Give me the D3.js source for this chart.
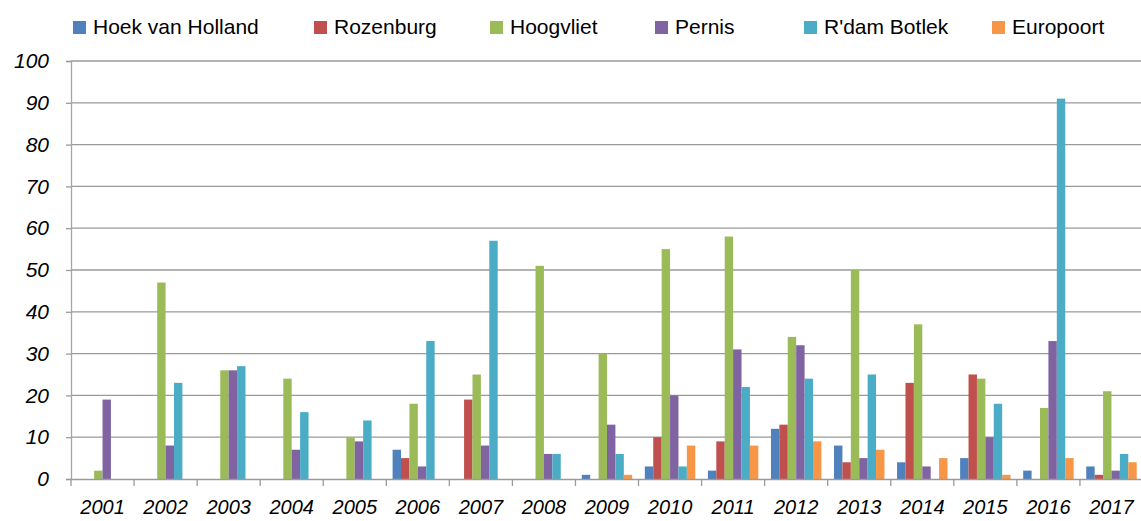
<!DOCTYPE html>
<html>
<head>
<meta charset="utf-8">
<script src="https://cdn.jsdelivr.net/npm/d3@7"></script>
<style>
  body { margin: 0; background: #fff; }
  svg { display: block; font-family: "Liberation Sans", Arial, sans-serif; }
</style>
</head>
<body>
<div id="graph1"></div>
<script>
//categories and series
let years = ["2001","2002","2003","2004","2005","2006","2007","2008","2009","2010","2011","2012","2013","2014","2015","2016","2017"];
let seriesNames = ["Hoek van Holland", "Rozenburg", "Hoogvliet", "Pernis", "R'dam Botlek", "Europoort"];
let seriesColors = ["#4f81bd", "#c0504d", "#9bbb59", "#8064a2", "#4bacc6", "#f79646"];

let hoekVanHolland = [0, 0, 0, 0, 0, 7, 0, 0, 1, 3, 2, 12, 8, 4, 5, 2, 3];
let rozenburg      = [0, 0, 0, 0, 0, 5, 19, 0, 0, 10, 9, 13, 4, 23, 25, 0, 1];
let hoogvliet      = [2, 47, 26, 24, 10, 18, 25, 51, 30, 55, 58, 34, 50, 37, 24, 17, 21];
let pernis         = [19, 8, 26, 7, 9, 3, 8, 6, 13, 20, 31, 32, 5, 3, 10, 33, 2];
let botlek         = [0, 23, 27, 16, 14, 33, 57, 6, 6, 3, 22, 24, 25, 0, 18, 91, 6];
let europoort      = [0, 0, 0, 0, 0, 0, 0, 0, 1, 8, 8, 9, 7, 5, 1, 5, 4];

let yTicks = [0, 10, 20, 30, 40, 50, 60, 70, 80, 90, 100];

let seriesValues = [hoekVanHolland, rozenburg, hoogvliet, pernis, botlek, europoort];

//layout
let width = 1141, height = 521;
let margin = {top: 61, right: -2, bottom: 42, left: 71};
let innerW = width - margin.left - margin.right;
let innerH = height - margin.top - margin.bottom;
let legendTextX = [93, 334, 510, 675, 824, 1012];

let svg = d3.select("#graph1")
    .append("svg")
    .attr("width", width)
    .attr("height", height);

let g = svg.append("g")
    .attr("transform", `translate(${margin.left},${margin.top})`);

//scales
let x = d3.scaleBand()
    .domain(years)
    .range([0, innerW])
    .paddingInner(0)
    .paddingOuter(0);

let x1 = d3.scaleBand()
    .domain(seriesNames)
    .range([x.bandwidth() * 0.1, x.bandwidth() * 0.9]);

let y = d3.scaleLinear()
    .domain([0, 100])
    .range([innerH, 0]);

let color = d3.scaleOrdinal().domain(seriesNames).range(seriesColors);

//gridlines
g.append("g")
    .selectAll("line")
    .data(yTicks.slice(1))
    .enter()
    .append("line")
    .attr("x1", 0)
    .attr("x2", innerW)
    .attr("y1", d => y(d))
    .attr("y2", d => y(d))
    .attr("stroke", "#9a9a9a")
    .attr("stroke-width", 1.3);

//y axis
let yAxis = g.append("g")
    .call(d3.axisLeft(y).tickValues(yTicks).tickSize(5).tickPadding(17));
yAxis.select(".domain").attr("stroke", "#a6a6a6").attr("stroke-width", 1.3);
yAxis.selectAll(".tick line").attr("stroke", "#9a9a9a").attr("stroke-width", 1.3);
yAxis.selectAll("text")
    .style("font-size", "21px")
    .style("font-style", "italic")
    .attr("fill", "#000");

//bars
let data = [];
years.forEach(function(yr, i) {
    seriesNames.forEach(function(s, j) {
        data.push({year: yr, series: s, value: seriesValues[j][i]});
    });
});

g.append("g")
    .selectAll("rect")
    .data(data.filter(d => d.value > 0))
    .enter()
    .append("rect")
    .attr("x", d => x(d.year) + x1(d.series))
    .attr("y", d => y(d.value))
    .attr("width", x1.bandwidth())
    .attr("height", d => y(0) - y(d.value))
    .attr("fill", d => color(d.series));

//x axis
let xAxis = g.append("g")
    .attr("transform", `translate(0,${innerH})`)
    .call(d3.axisBottom(x).tickSize(0).tickPadding(21));
xAxis.select(".domain").attr("stroke", "#9a9a9a").attr("stroke-width", 1.3);
xAxis.selectAll("text")
    .style("font-size", "20px")
    .style("font-style", "italic")
    .attr("fill", "#000");

//category boundary ticks
g.append("g")
    .selectAll("line")
    .data(years)
    .enter()
    .append("line")
    .attr("x1", d => x(d))
    .attr("x2", d => x(d))
    .attr("y1", innerH)
    .attr("y2", innerH + 7)
    .attr("stroke", "#9a9a9a")
    .attr("stroke-width", 1.3);

//legend
let legend = svg.append("g")
    .selectAll("g")
    .data(seriesNames)
    .enter()
    .append("g")
    .attr("transform", (d, i) => `translate(${legendTextX[i]},0)`);

legend.append("rect")
    .attr("x", -20)
    .attr("y", 21)
    .attr("width", 13)
    .attr("height", 13)
    .attr("fill", d => color(d));

legend.append("text")
    .attr("x", 0)
    .attr("y", 34)
    .style("font-size", "21px")
    .text(d => d);
</script>
</body>
</html>
